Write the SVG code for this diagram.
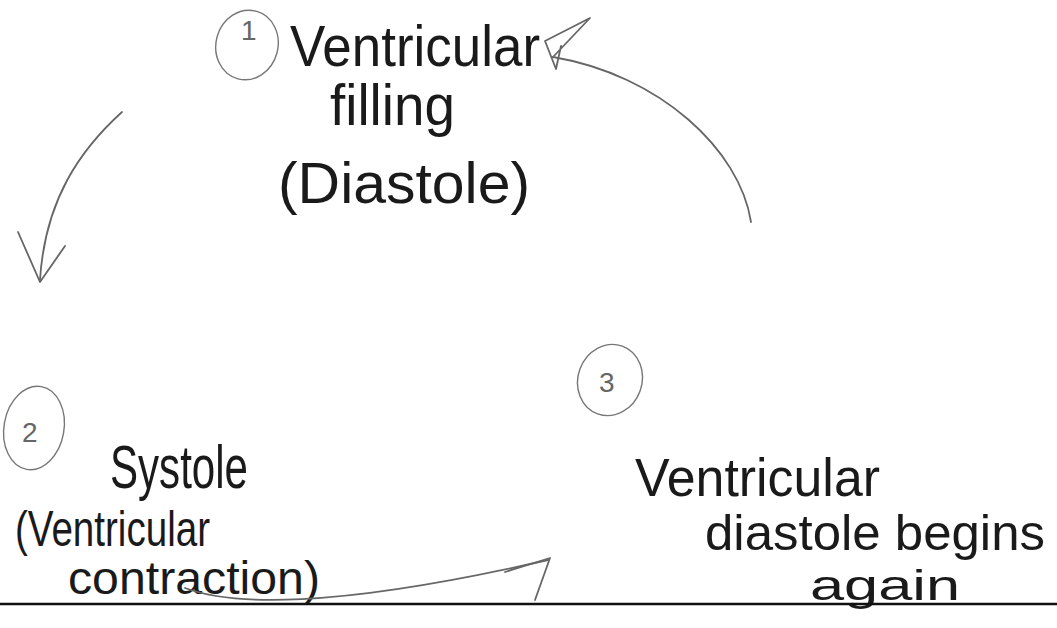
<svg xmlns="http://www.w3.org/2000/svg" width="1057" height="628" viewBox="0 0 1057 628">
<style>
.t{font-family:"Liberation Sans","DejaVu Sans",sans-serif;fill:#1a1a1a}
.num{font-family:"Liberation Sans",sans-serif;fill:#666;font-size:28px}
.ring{fill:none;stroke:#777;stroke-width:1.4}
.conn{fill:none;stroke:#666;stroke-width:1.8;stroke-linecap:round;stroke-linejoin:round}
</style>
<rect width="1057" height="628" fill="#fff"/>
<g id="node1">
  <ellipse class="ring" cx="247" cy="45" rx="31" ry="35" transform="rotate(15 247 45)"/>
  <text class="num" x="241" y="40">1</text>
  <text class="t" x="290" y="66" font-size="58" textLength="250" lengthAdjust="spacingAndGlyphs">Ventricular</text>
  <text class="t" x="330" y="125" font-size="58" textLength="125" lengthAdjust="spacingAndGlyphs">filling</text>
  <text class="t" x="278" y="203" font-size="58" textLength="252" lengthAdjust="spacingAndGlyphs">(Diastole)</text>
</g>
<g id="node2">
  <ellipse class="ring" cx="34" cy="428" rx="30" ry="42" transform="rotate(10 34 428)"/>
  <text class="num" x="22" y="442">2</text>
  <text class="t" x="110" y="488" font-size="62" textLength="138" lengthAdjust="spacingAndGlyphs">Systole</text>
  <text class="t" x="15" y="546" font-size="50" textLength="195" lengthAdjust="spacingAndGlyphs">(Ventricular</text>
  <text class="t" x="68" y="594" font-size="46" textLength="252" lengthAdjust="spacingAndGlyphs">contraction)</text>
</g>
<g id="node3">
  <ellipse class="ring" cx="610" cy="380" rx="32" ry="36" transform="rotate(20 610 380)"/>
  <text class="num" x="599" y="392">3</text>
  <text class="t" x="635" y="496" font-size="54" textLength="245" lengthAdjust="spacingAndGlyphs">Ventricular</text>
  <text class="t" x="705" y="550" font-size="50" textLength="340" lengthAdjust="spacingAndGlyphs">diastole begins</text>
  <text class="t" x="810" y="600" font-size="42" textLength="150" lengthAdjust="spacingAndGlyphs">again</text>
</g>
<g id="connectors">
  <path class="conn" d="M122,112 C80,150 45,200 40,280"/>
  <path class="conn" d="M18,232 L40,282 L65,246"/>
  <path class="conn" d="M751,222 C740,150 660,75 553,57"/>
  <path class="conn" d="M545,41 L590,18 L553,57 M545,41 L556,69 L561,46"/>
  <path class="conn" d="M185,588 C230,605 330,610 548,560"/>
  <path class="conn" d="M505,572 L550,558 L535,600"/>
</g>
<line x1="0" y1="604" x2="1057" y2="604" stroke="#111" stroke-width="2.5"/>
</svg>
